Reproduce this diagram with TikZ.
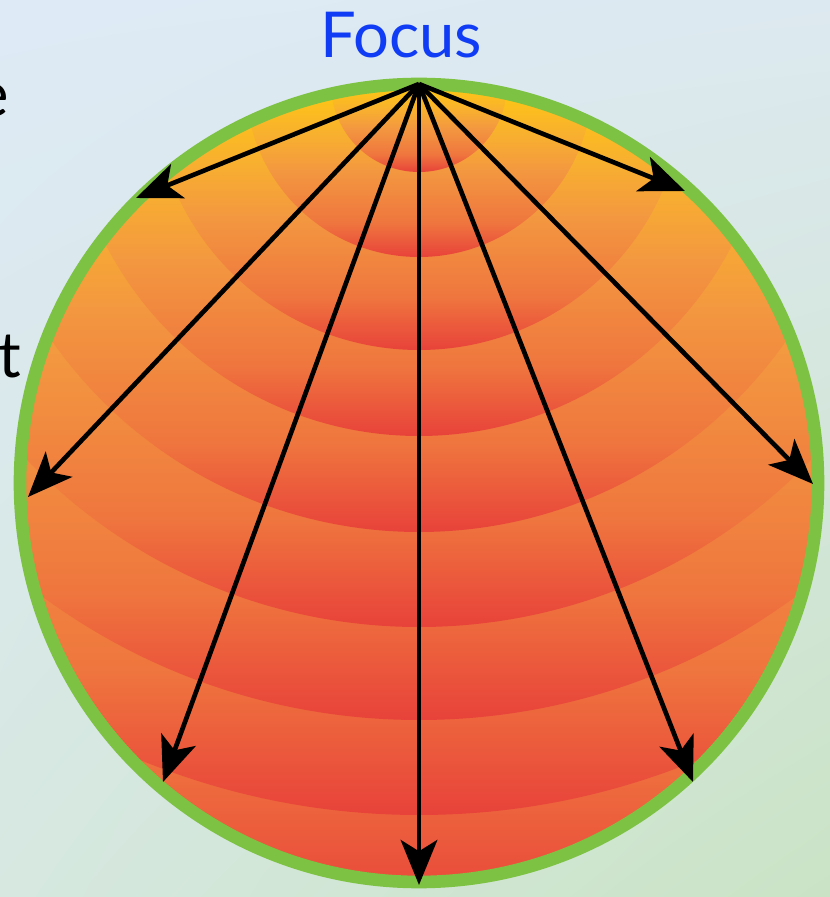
\documentclass[tikz,border=0pt]{standalone}
\usepackage{fontspec}
\setmainfont{Lato}
\usetikzlibrary{arrows.meta,shadings}

\definecolor{bgtl}{RGB}{222,234,246}
\definecolor{bgtr}{RGB}{221,233,240}
\definecolor{bgbl}{RGB}{214,232,224}
\definecolor{bgbr}{RGB}{202,227,197}
\definecolor{bandyellow}{RGB}{255,203,14}
\definecolor{bandamber}{RGB}{248,175,48}
\definecolor{bandorange}{RGB}{243,152,64}
\definecolor{bandcoral}{RGB}{239,118,62}
\definecolor{bandred}{RGB}{232,66,58}
\definecolor{rimgreen}{RGB}{125,194,66}
\definecolor{focusblue}{RGB}{16,60,245}

% band colours: top of the box at 75bp, bottom at 25bp
\pgfdeclareverticalshading{bandshade}{100bp}{color(0bp)=(bandred); color(25bp)=(bandred);
	color(35bp)=(bandcoral); color(50bp)=(bandorange); color(60bp)=(bandamber);
	color(75bp)=(bandyellow); color(100bp)=(bandyellow)}

\begin{document}
\begin{tikzpicture}[x=0.025cm, y=0.025cm,
	band/.style={shading=bandshade},
	ray/.style={line width=3.3pt, -{Stealth[length=32pt, width=26pt, inset=8pt]}},
	word/.style={font=\fontsize{45}{54}\selectfont, inner sep=0pt}]
	\useasboundingbox (0,0) rectangle (830,897);
	
	% 1. Background
	\shade[upper left=bgtl, upper right=bgtr, lower left=bgbl, lower right=bgbr] (0,0) rectangle (830,897);
	
	% Centre of the mirror and the focus on its rim
	\coordinate (O) at (419,414);
	\coordinate (F) at (419,813);
	
	% 2. Bands round the focus, clipped to the disc
	\begin{scope}
		\clip (O) circle[radius=399];
		\foreach \r in {830,731,636,543,448,352,266,173,88}
			\shade[band] (F) ++(\r,0) arc[start angle=0, end angle=-180, radius=\r] -- cycle;
	\end{scope}
	
	% 3. Green rim
	\draw[rimgreen, line width=9pt] (O) circle[radius=399];
	
	% 4. Rays from the focus
	\coordinate (tipA) at (136,699);
	\coordinate (tipB) at (685,706);
	\coordinate (tipC) at (28,400);
	\coordinate (tipD) at (813,413);
	\coordinate (tipE) at (163,115);
	\coordinate (tipF) at (693,115);
	\coordinate (tipG) at (419,12);
	\foreach \t in {tipA,tipB,tipC,tipD,tipE,tipF,tipG}
		\draw[ray] (F) -- (\t);
	
	% 5. Labels
	\node[word, text=focusblue, anchor=base] (focuslabel) at (401,839) {Focus};
	\node[word, anchor=base east] (cutE) at (9,780) {e};
	\node[word, anchor=base east] (cutT) at (21,519) {t};
\end{tikzpicture}
\end{document}
